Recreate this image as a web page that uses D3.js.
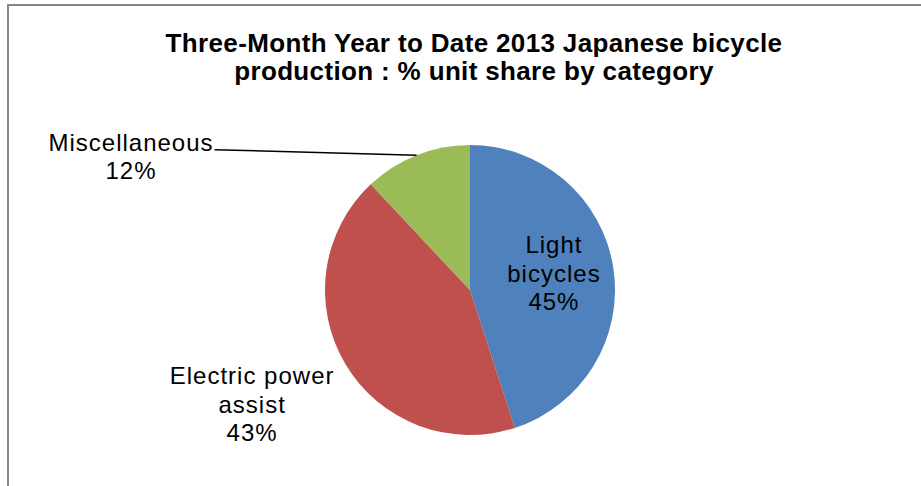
<!DOCTYPE html>
<html>
<head>
<meta charset="utf-8">
<script src="https://cdn.jsdelivr.net/npm/d3@7"></script>
<style>
  html, body { margin: 0; padding: 0; background: #ffffff; }
  svg { display: block; }
</style>
</head>
<body>
<svg id="chart" width="921" height="486"></svg>
<script>
// ---- data ----
const categories = ["Light bicycles", "Electric power assist", "Miscellaneous"];
const shares = [45, 43, 12];
const labelLines = [["Light", "bicycles"], ["Electric power", "assist"], ["Miscellaneous"]];
const colors = ["#4F81BD", "#C0504D", "#9BBB59"];
const titleLines = ["Three-Month Year to Date 2013 Japanese bicycle", "production : % unit share by category"];

// ---- layout ----
const W = 921, H = 486;
const cx = 470, cy = 290, R = 145;
const svg = d3.select("#chart");

// outer chart border (clipped by the window on right/bottom)
svg.append("rect")
  .attr("x", 8).attr("y", 5)
  .attr("width", W + 20).attr("height", H + 20)
  .attr("fill", "#ffffff")
  .attr("stroke", "#868686")
  .attr("stroke-width", 2);

// title
const title = svg.append("text")
  .attr("text-anchor", "middle")
  .attr("font-family", "'Liberation Sans', Arial, sans-serif")
  .attr("font-weight", "bold")
  .attr("font-size", 26)
  .attr("letter-spacing", 0.35)
  .attr("fill", "#000");
titleLines.forEach((t, i) => {
  title.append("tspan").attr("x", 474).attr("y", 52 + i * 28).text(t);
});

// pie
const pie = d3.pie().sort(null).value(d => d).startAngle(0).endAngle(2 * Math.PI);
const arcs = pie(shares);
const arc = d3.arc().innerRadius(0).outerRadius(R);
const g = svg.append("g").attr("transform", `translate(${cx},${cy})`);

g.selectAll("path.slice")
  .data(arcs)
  .join("path")
  .attr("class", "slice")
  .attr("d", arc)
  .attr("fill", (d, i) => colors[i]);

// labels
const fontFamily = "'Liberation Sans', Arial, sans-serif";
const lineH = 28.5;
// label placement: radius along mid-angle and extra offset
const placement = [
  { r: 85, dx: 0, dy: -3 },
  { r: 245, dx: -7, dy: -10 },
  { r: 360, dx: 0, dy: 0 }
];

arcs.forEach((d, i) => {
  const p = placement[i];
  const c = d3.arc().innerRadius(p.r).outerRadius(p.r).centroid(d);
  let x = c[0] + p.dx, y = c[1] + p.dy;
  const lines = labelLines[i].concat([d3.format(".0f")(shares[i]) + "%"]);
  if (i === 2) {
    // Miscellaneous: label to the upper left with leader line
    x = 131 - cx; y = 157 - cy;
  }
  const n = lines.length;
  const firstBaseline = y - (n - 1) * lineH / 2 + 8;
  const t = g.append("text")
    .attr("text-anchor", "middle")
    .attr("font-family", fontFamily)
    .attr("font-size", 24)
    .attr("letter-spacing", 1)
    .attr("fill", "#000");
  lines.forEach((s, k) => {
    t.append("tspan").attr("x", x).attr("y", firstBaseline + k * lineH).text(s);
  });
  if (i === 2) {
    const edge = d3.arc().innerRadius(R).outerRadius(R).centroid(d);
    const bb = t.node().getBBox();
    g.append("line")
      .attr("x1", bb.x + bb.width + 1).attr("y1", firstBaseline - 1)
      .attr("x2", edge[0]).attr("y2", edge[1])
      .attr("stroke", "#000")
      .attr("stroke-width", 1.5);
  }
});
</script>
</body>
</html>
